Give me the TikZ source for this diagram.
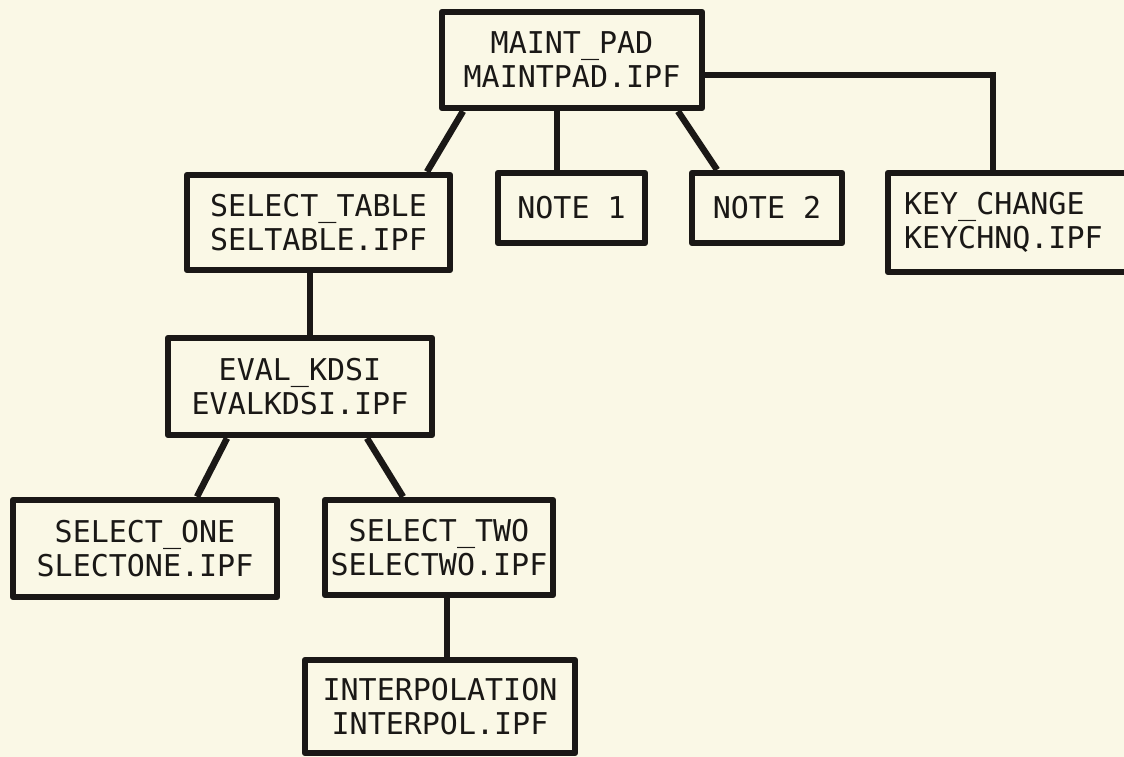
\documentclass[tikz,border=0pt]{standalone}
\usepackage{fontspec}
\newfontfamily\plotfont{DejaVu Sans Mono}
\definecolor{paper}{RGB}{250,248,230}
\definecolor{ink}{RGB}{26,24,22}
\begin{document}
\begin{tikzpicture}[x=1pt, y=-1pt,
    modbox/.style={draw=ink, line width=6.5pt, line join=round, rectangle,
        align=center, inner sep=0pt, text=ink,
        font={\plotfont\fontsize{30}{34}\selectfont}},
    link/.style={draw=ink, line width=6.5pt}]
    \fill[paper] (0,0) rectangle (1124,757);
    \useasboundingbox (0,0) rectangle (1124,757);

    \node[modbox, minimum width=260, minimum height=96] (mpad) at (572,60) {MAINT\_PAD\\MAINTPAD.IPF};
    \node[modbox, minimum width=263, minimum height=95] (seltab) at (318.5,222.5) {SELECT\_TABLE\\SELTABLE.IPF};
    \node[modbox, minimum width=147, minimum height=70] (note1) at (571.5,208) {NOTE 1};
    \node[modbox, minimum width=150, minimum height=70] (note2) at (767,208) {NOTE 2};
    \node[modbox, minimum width=262, minimum height=99, text width=230, align=left] (keych) at (1019,222.5) {KEY\_CHANGE\\KEYCHNQ.IPF};

    \node[modbox, minimum width=264, minimum height=97] (evalk) at (300,386.5) {EVAL\_KDSI\\EVALKDSI.IPF};
    \node[modbox, minimum width=264, minimum height=97] (selone) at (145,548.5) {SELECT\_ONE\\SLECTONE.IPF};
    \node[modbox, minimum width=228, minimum height=95] (seltwo) at (439,547.5) {SELECT\_TWO\\SELECTWO.IPF};
    \node[modbox, minimum width=270, minimum height=93] (interp) at (440,706.5) {INTERPOLATION\\INTERPOL.IPF};

    \draw[link] ([xshift=-109pt]mpad.south) -- ([xshift=108.5pt]seltab.north);
    \draw[link] ([xshift=-15pt]mpad.south) -- ([xshift=-14.5pt]note1.north);
    \draw[link] ([xshift=106pt]mpad.south) -- ([xshift=-50pt]note2.north);
    \draw[link] ([yshift=-15pt]mpad.east) -| ([xshift=-26pt]keych.north);

    \draw[link] ([xshift=-8.5pt]seltab.south) -- ([xshift=10pt]evalk.north);
    \draw[link] ([xshift=-73pt]evalk.south) -- ([xshift=52pt]selone.north);
    \draw[link] ([xshift=67pt]evalk.south) -- ([xshift=-36pt]seltwo.north);
    \draw[link] ([xshift=8pt]seltwo.south) -- ([xshift=7pt]interp.north);
\end{tikzpicture}
\end{document}
